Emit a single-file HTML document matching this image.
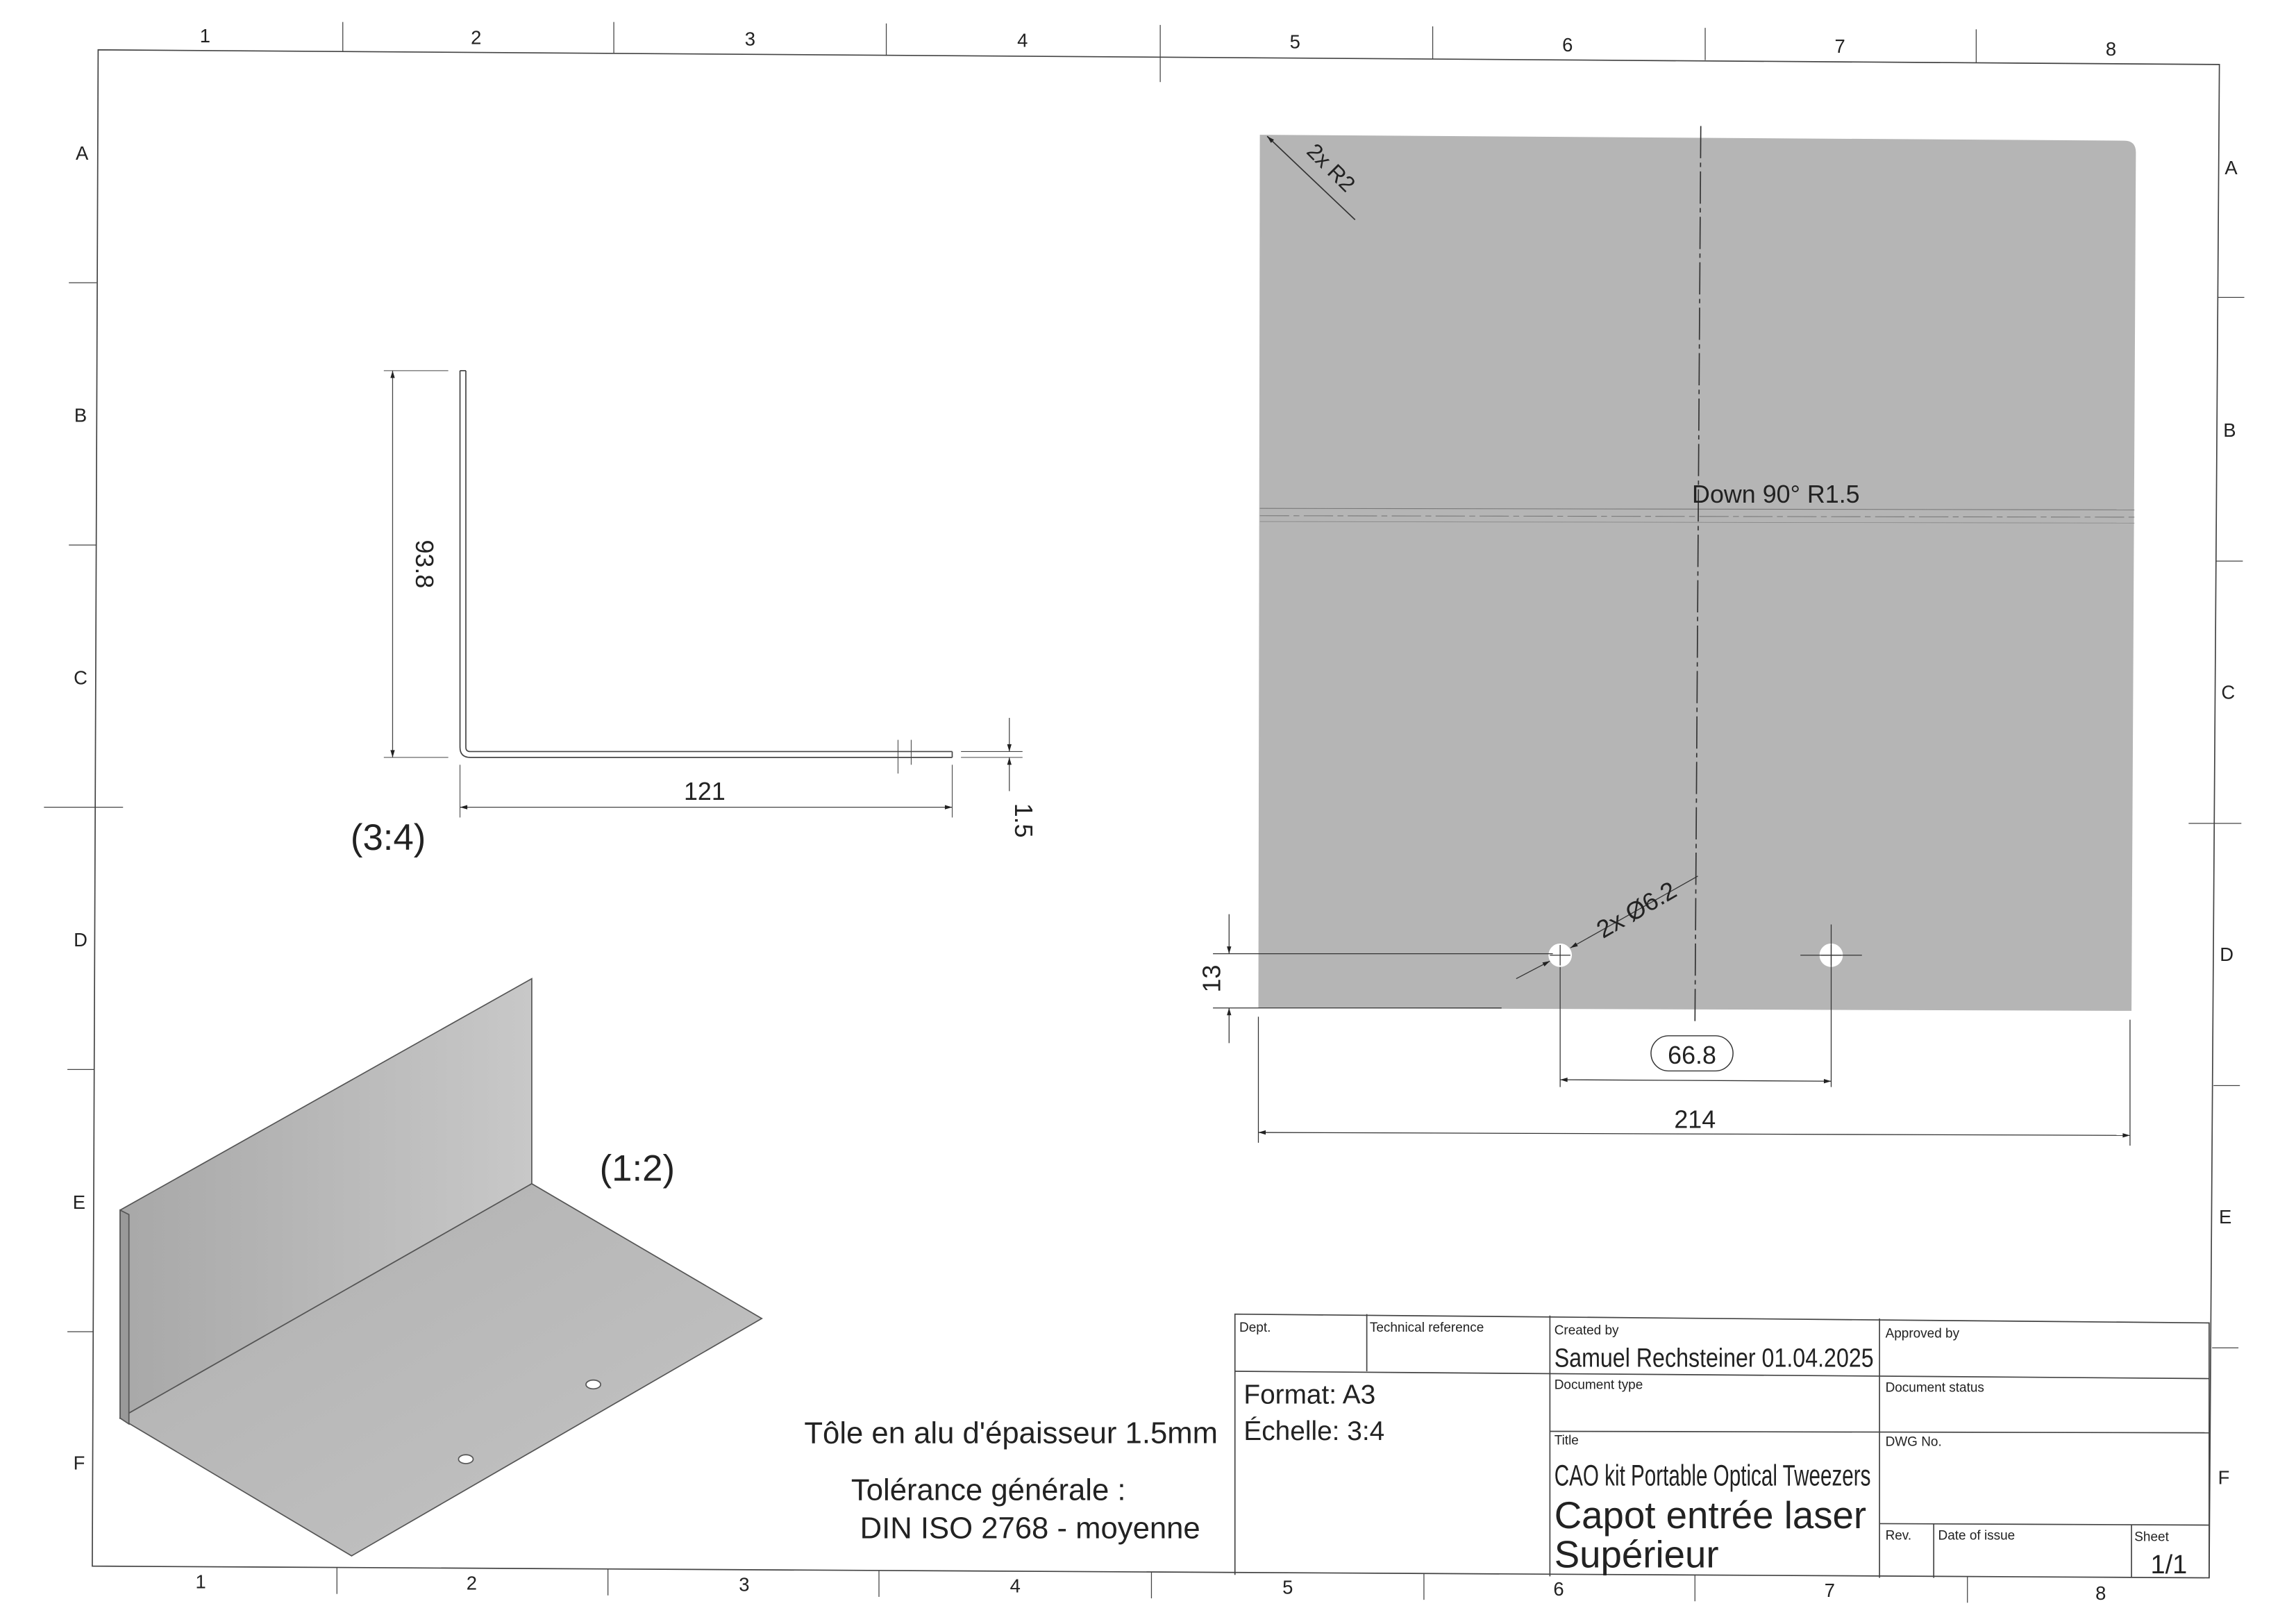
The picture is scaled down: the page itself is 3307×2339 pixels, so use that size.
<!DOCTYPE html>
<html><head><meta charset="utf-8"><style>
html,body{margin:0;padding:0;background:#fff;width:3307px;height:2339px;overflow:hidden}
svg{display:block}
text{font-family:"Liberation Sans",sans-serif;fill:#222}
.c{font-family:"Liberation Sans Narrow","Liberation Sans",sans-serif}
</style></head><body>
<svg width="3307" height="2339" viewBox="0 0 1567.3 1108.5">
<defs>
<marker id="ar" viewBox="0 0 10 10" refX="10" refY="5" markerWidth="9" markerHeight="5" orient="auto-start-reverse" markerUnits="userSpaceOnUse"><path d="M0,2 L10,5 L0,8z" fill="#222"/></marker>
<linearGradient id="g1" x1="0" y1="0" x2="1" y2="1"><stop offset="0" stop-color="#b0b0b0"/><stop offset="1" stop-color="#c4c4c4"/></linearGradient>
<linearGradient id="g2" x1="0" y1="0" x2="1" y2="0"><stop offset="0" stop-color="#a8a8a8"/><stop offset="1" stop-color="#c8c8c8"/></linearGradient>
</defs>
<g stroke="#444" stroke-width="0.8" fill="none">
<polygon points="67,34 1515,44 1508,1077 63,1069"/>
<g stroke-width="0.6">
<line x1="234" y1="15" x2="234" y2="35"/><line x1="419" y1="15" x2="419" y2="36"/><line x1="605" y1="16" x2="605" y2="38"/><line x1="792" y1="17" x2="792" y2="56"/><line x1="978" y1="18" x2="978" y2="40"/><line x1="1164" y1="19" x2="1164" y2="41"/><line x1="1349" y1="20" x2="1349" y2="43"/>
<line x1="47" y1="193" x2="66" y2="193"/><line x1="47" y1="372" x2="66" y2="372"/><line x1="30" y1="551" x2="84" y2="551"/><line x1="46" y1="730" x2="64" y2="730"/><line x1="46" y1="909" x2="64" y2="909"/>
<line x1="1514" y1="203" x2="1532" y2="203"/><line x1="1513" y1="383" x2="1531" y2="383"/><line x1="1494" y1="562" x2="1530" y2="562"/><line x1="1511" y1="741" x2="1529" y2="741"/><line x1="1510" y1="920" x2="1528" y2="920"/>
<line x1="230" y1="1070" x2="230" y2="1088"/><line x1="415" y1="1071" x2="415" y2="1089"/><line x1="600" y1="1072" x2="600" y2="1090"/><line x1="786" y1="1073" x2="786" y2="1091"/><line x1="972" y1="1074" x2="972" y2="1092"/><line x1="1157" y1="1075" x2="1157" y2="1093"/><line x1="1343" y1="1076" x2="1343" y2="1094"/>
</g></g>
<g font-size="13" text-anchor="middle">
<text x="140" y="29">1</text><text x="325" y="30">2</text><text x="512" y="31">3</text><text x="698" y="32">4</text><text x="884" y="33">5</text><text x="1070" y="35">6</text><text x="1256" y="36">7</text><text x="1441" y="38">8</text>
<text x="137" y="1084">1</text><text x="322" y="1085">2</text><text x="508" y="1086">3</text><text x="693" y="1087">4</text><text x="879" y="1088">5</text><text x="1064" y="1089">6</text><text x="1249" y="1090">7</text><text x="1434" y="1092">8</text>
<text x="56" y="109">A</text><text x="55" y="288">B</text><text x="55" y="467">C</text><text x="55" y="646">D</text><text x="54" y="825">E</text><text x="54" y="1003">F</text>
<text x="1523" y="119">A</text><text x="1522" y="298">B</text><text x="1521" y="477">C</text><text x="1520" y="656">D</text><text x="1519" y="835">E</text><text x="1518" y="1013">F</text>
</g>
<g stroke="#444" stroke-width="0.8" fill="none">
<path d="M314,253 L314,510 Q314,517 321,517 L650,517"/>
<path d="M318,253 L318,510 Q318,513 321,513 L650,513"/>
<line x1="314" y1="253" x2="318" y2="253"/><line x1="650" y1="513" x2="650" y2="517"/>
<line x1="262" y1="253" x2="306" y2="253" stroke-width="0.5"/><line x1="262" y1="517" x2="306" y2="517" stroke-width="0.5"/>
<line x1="268" y1="253" x2="268" y2="517" stroke-width="0.6" marker-start="url(#ar)" marker-end="url(#ar)"/>
<line x1="314" y1="522" x2="314" y2="558" stroke-width="0.5"/><line x1="650" y1="522" x2="650" y2="558" stroke-width="0.5"/>
<line x1="314" y1="551" x2="650" y2="551" stroke-width="0.6" marker-start="url(#ar)" marker-end="url(#ar)"/>
<line x1="656" y1="513" x2="698" y2="513" stroke-width="0.5"/><line x1="656" y1="517" x2="698" y2="517" stroke-width="0.5"/>
<line x1="689" y1="490" x2="689" y2="513" stroke-width="0.6" marker-end="url(#ar)"/><line x1="689" y1="540" x2="689" y2="517" stroke-width="0.6" marker-end="url(#ar)"/>
<line x1="613" y1="505" x2="613" y2="528" stroke-width="0.5"/><line x1="622" y1="505" x2="622" y2="522" stroke-width="0.5"/>
</g>
<text x="283" y="385" font-size="17" text-anchor="middle" transform="rotate(90 283 385)" dy="-1">93.8</text>
<text x="481" y="546" font-size="17" text-anchor="middle">121</text>
<text x="693" y="560" font-size="17" text-anchor="middle" transform="rotate(90 693 560)">1.5</text>
<text x="265" y="580" font-size="25" text-anchor="middle">(3:4)</text>
<g stroke="#555" stroke-width="0.8">
<polygon points="82,826 363,668 363,808 82,968" fill="url(#g2)"/>
<polygon points="82,968 363,808 520,900 240,1062" fill="url(#g1)"/>
<polygon points="82,826 82,968 88,972 88,829" fill="#999"/>
<ellipse cx="405" cy="945" rx="5" ry="3" fill="#fff"/><ellipse cx="318" cy="996" rx="5" ry="3" fill="#fff"/>
</g>
<text x="435" y="806" font-size="25" text-anchor="middle">(1:2)</text>
<g font-size="20.7">
<text x="549" y="985">Tôle en alu d'épaisseur 1.5mm</text>
<text x="581" y="1024">Tolérance générale :</text>
<text x="587" y="1050">DIN ISO 2768 - moyenne</text>
</g>
<g>
<path d="M860,92 L1450,96 Q1458,96 1458,104 L1455,690 L859,688 Z" fill="#b5b5b5"/>
<line x1="860" y1="347" x2="1457" y2="348" stroke="#777" stroke-width="0.5"/>
<line x1="860" y1="352" x2="1457" y2="353" stroke="#777" stroke-width="0.5" stroke-dasharray="20 3 4 3"/>
<line x1="860" y1="356" x2="1457" y2="357" stroke="#888" stroke-width="0.4"/>
<line x1="1161" y1="86" x2="1157" y2="700" stroke="#333" stroke-width="0.8" stroke-dasharray="22 3 3 3"/>
<line x1="865" y1="93" x2="925" y2="150" stroke="#333" stroke-width="0.8" marker-start="url(#ar)"/>
<text x="905" y="118" font-size="15" text-anchor="middle" transform="rotate(45 905 118)">2x R2</text>
<text x="1155" y="343" font-size="17">Down 90° R1.5</text>
<circle cx="1065" cy="652" r="8" fill="#fff"/>
<circle cx="1250" cy="652" r="8" fill="#fff"/>
<g stroke="#333" stroke-width="0.6" fill="none">
<line x1="1058" y1="652" x2="1072" y2="652"/><line x1="1065" y1="645" x2="1065" y2="659"/>
<line x1="1243" y1="652" x2="1257" y2="652"/><line x1="1250" y1="645" x2="1250" y2="659"/>
<line x1="1229" y1="652" x2="1271" y2="652"/><line x1="1250" y1="631" x2="1250" y2="742"/>
<line x1="1065" y1="660" x2="1065" y2="742"/>
<line x1="1159" y1="598" x2="1072" y2="647" marker-end="url(#ar)"/><line x1="1035" y1="668" x2="1058" y2="656" marker-end="url(#ar)"/>
<line x1="828" y1="651" x2="1060" y2="651"/><line x1="828" y1="688" x2="1025" y2="688"/>
<line x1="839" y1="624" x2="839" y2="651" marker-end="url(#ar)"/><line x1="839" y1="712" x2="839" y2="688" marker-end="url(#ar)"/>
<line x1="1065" y1="737" x2="1250" y2="738" marker-start="url(#ar)" marker-end="url(#ar)"/>
<line x1="859" y1="694" x2="859" y2="780"/><line x1="1454" y1="696" x2="1454" y2="782"/>
<line x1="859" y1="773" x2="1454" y2="775" marker-start="url(#ar)" marker-end="url(#ar)"/>
<rect x="1127" y="707" width="56" height="24" rx="12" stroke-width="0.7"/>
</g>
<text x="1120" y="626" font-size="17" text-anchor="middle" transform="rotate(-30 1120 626)">2x Ø6.2</text>
<text x="833" y="668" font-size="17" text-anchor="middle" transform="rotate(-90 833 668)">13</text>
<text x="1155" y="726" font-size="17" text-anchor="middle">66.8</text>
<text x="1157" y="770" font-size="17" text-anchor="middle">214</text>
</g>
<g>
<g stroke="#444" stroke-width="0.8" fill="none">
<polyline points="843,1075 843,897 1508,903 1508,1077"/>
<line x1="843" y1="936" x2="1508" y2="941"/>
<line x1="1058" y1="977" x2="1508" y2="978"/>
<line x1="1283" y1="1040" x2="1508" y2="1041"/>
<line x1="933" y1="897" x2="933" y2="936"/>
<line x1="1058" y1="898" x2="1058" y2="1076"/>
<line x1="1283" y1="900" x2="1283" y2="1077"/>
<line x1="1320" y1="1040" x2="1320" y2="1077"/>
<line x1="1455" y1="1041" x2="1455" y2="1077"/>
</g>
<g font-size="9" class="c">
<text x="846" y="909">Dept.</text><text x="935" y="909">Technical reference</text>
<text x="1061" y="911">Created by</text><text x="1287" y="913">Approved by</text>
<text x="1061" y="948">Document type</text><text x="1287" y="950">Document status</text>
<text x="1061" y="986">Title</text><text x="1287" y="987">DWG No.</text>
<text x="1287" y="1051">Rev.</text><text x="1323" y="1051">Date of issue</text><text x="1457" y="1052">Sheet</text>
</g>
<text x="1061" y="933" font-size="18" class="c" textLength="218" lengthAdjust="spacingAndGlyphs">Samuel Rechsteiner  01.04.2025</text>
<text x="849" y="958" font-size="18.4">Format: A3</text>
<text x="849" y="983" font-size="18.4">Échelle: 3:4</text>
<text x="1061" y="1014" font-size="20" class="c" textLength="216" lengthAdjust="spacingAndGlyphs">CAO kit Portable Optical Tweezers</text>
<text x="1061" y="1043" font-size="25.9">Capot entrée laser</text>
<text x="1061" y="1070" font-size="25.9">Supérieur</text>
<text x="1468" y="1074" font-size="18">1/1</text>
</g>
</svg>
</body></html>
